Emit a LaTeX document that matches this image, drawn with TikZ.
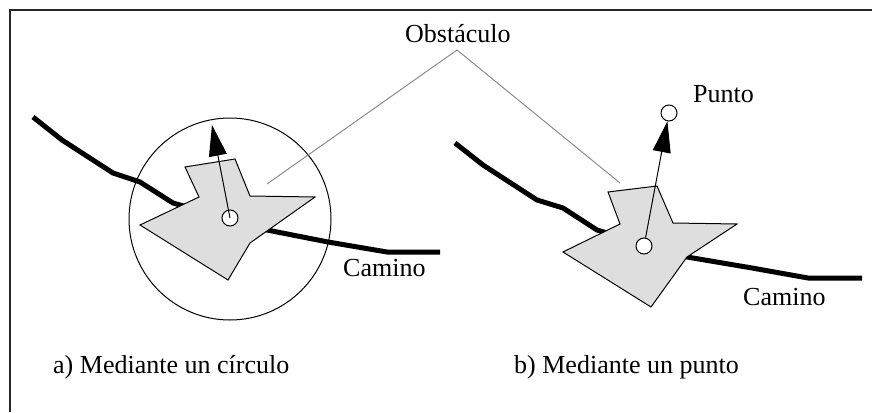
\documentclass[tikz,border=0pt]{standalone}
\usepackage{fontspec}
\setmainfont{Liberation Serif}
\usetikzlibrary{arrows.meta}
\begin{document}
\begin{tikzpicture}[x=1pt,y=-1pt,
  lbl/.style={font=\fontsize{26}{30}\selectfont, inner sep=0pt, anchor=base west},
  road/.style={line width=5pt, line join=miter},
  obst/.style={draw=black, fill=black!13, line width=1pt, line join=miter},
  dot/.style={circle, draw=black, fill=white, line width=1pt, minimum size=16pt, inner sep=0pt},
  leader/.style={draw=black!45, line width=1pt},
  vec/.style={line width=1pt, -{Triangle[length=31pt,width=18pt]}}]
\useasboundingbox (0,0) rectangle (872,412);
% frame
\draw[line width=1.5pt, black!85] (872,10) -- (10,10) -- (10,412);

% ---------- left: circle ----------
\node[circle, draw, line width=1pt, minimum size=202pt, inner sep=0pt] (bigc) at (230,219) {};
\draw[road] (33,117) -- (62,140) -- (113,173) -- (140,182) -- (173,203) -- (267,230) -- (328,242) -- (387,252) -- (440,252);
\draw[obst] (185,167) -- (235,159) -- (250,196) -- (315,197) -- (250,243) -- (228,280) -- (140,225) -- (199,197) -- cycle;
\node[dot] (c1) at (230,218) {};
\coordinate (t1) at (212,125);
\draw[vec] (c1.center) -- (t1);
\node[lbl] (cam1) at (343,276) {Camino};

% ---------- right: point ----------
\draw[road] (455,143) -- (483,165) -- (537,200) -- (563,208) -- (597,230) -- (687,257) -- (752,268) -- (808,278) -- (862,278);
\draw[obst] (608,192) -- (657,186) -- (673,223) -- (737,224) -- (687,257) -- (651,307) -- (563,252) -- (620,224) -- cycle;
\node[dot] (c2) at (644,246) {};
\node[dot] (pt) at (669,113) {};
\draw[vec] (c2) -- (pt);
\node[lbl] (punto) at (693,102) {Punto};
\node[lbl] (cam2) at (743,305) {Camino};

% ---------- obstacle label ----------
\node[lbl] (obs) at (405,42) {Obstáculo};
\coordinate (apex) at (457,50);
\coordinate (e1) at (267,184);
\coordinate (e2) at (620,183);
\draw[leader] (e1) -- (apex) -- (e2);

% ---------- captions ----------
\node[lbl] (capa) at (53,373) {a) Mediante un círculo};
\node[lbl] (capb) at (514,373) {b) Mediante un punto};
\end{tikzpicture}
\end{document}
